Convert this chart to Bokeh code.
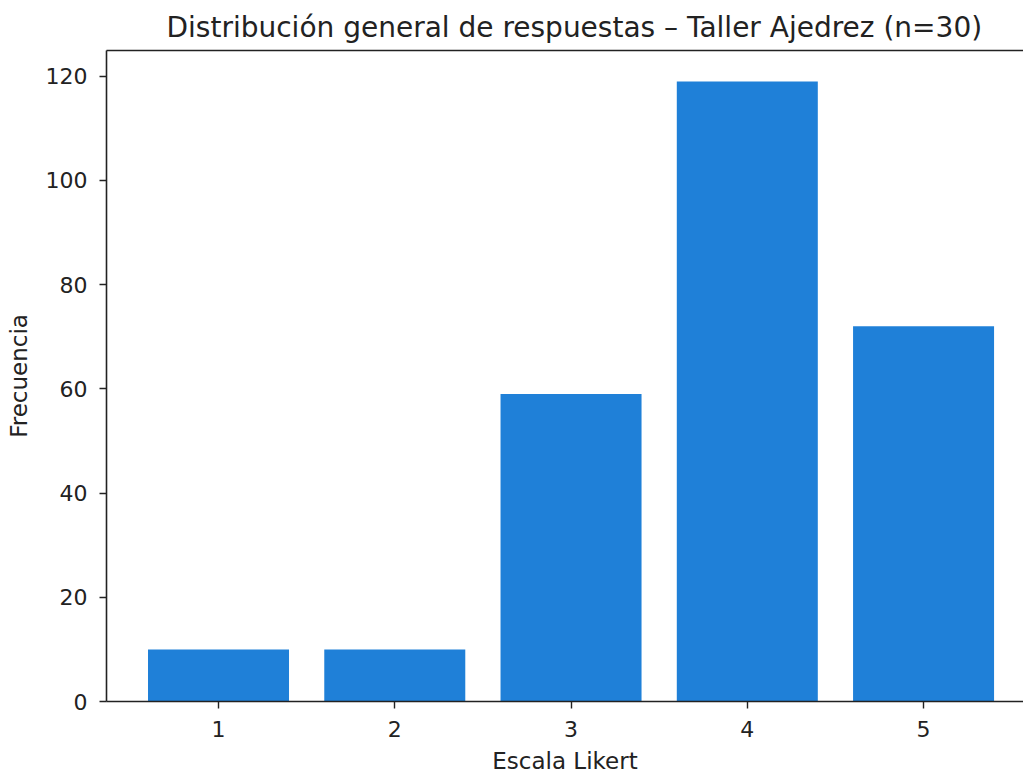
from bokeh.plotting import figure
from bokeh.models import Range1d, FixedTicker, LinearAxis, ColumnDataSource
from bokeh.embed import file_html
from bokeh.resources import INLINE

categories = ["1", "2", "3", "4", "5"]
frecuencia = [10, 10, 59, 119, 72]
y_ticks = [0, 20, 40, 60, 80, 100, 120]

src = ColumnDataSource(dict(x=[int(c) for c in categories], top=frecuencia))

FONT = "DejaVu Sans"
p = figure(width=1023, height=770, output_backend="svg", toolbar_location=None,
           x_range=Range1d(0.3645, 5.567), y_range=Range1d(0, 124.95),
           min_border_left=106, min_border_right=0, min_border_top=50, min_border_bottom=69)
p.frame_width = 917
p.frame_height = 651

p.title.text = "Distribución general de respuestas – Taller Ajedrez (n=30)"
p.title.text_font = FONT
p.title.text_font_size = "28px"
p.title.text_font_style = "normal"
p.title.text_color = "#222222"
p.title.align = "left"
p.title.offset = 60
p.title.standoff = 13

p.vbar(x="x", top="top", width=0.8, source=src, fill_color="#1f80d8", line_color=None)

p.xgrid.visible = False
p.ygrid.visible = False
p.outline_line_color = None
p.background_fill_color = "white"

for ax in (p.xaxis[0], p.yaxis[0]):
    ax.axis_line_color = "#222222"
    ax.axis_line_width = 1.6
    ax.major_tick_line_color = "#222222"
    ax.major_tick_line_width = 1.4
    ax.major_tick_out = 7
    ax.major_tick_in = 0
    ax.minor_tick_line_color = None
    ax.major_label_text_font = FONT
    ax.major_label_text_font_size = "22px"
    ax.major_label_text_color = "#222222"
    ax.axis_label_text_font = FONT
    ax.axis_label_text_font_size = "23px"
    ax.axis_label_text_font_style = "normal"
    ax.axis_label_text_color = "#222222"

p.xaxis.major_label_standoff = 12
p.yaxis.major_label_standoff = 12
p.xaxis.ticker = FixedTicker(ticks=[int(c) for c in categories])
p.xaxis.major_label_overrides = {int(c): c for c in categories}
p.yaxis.ticker = FixedTicker(ticks=y_ticks)
p.xaxis.axis_label = "Escala Likert"
p.yaxis.axis_label = "Frecuencia"
p.xaxis.axis_label_standoff = 8
p.yaxis.axis_label_standoff = 11

top_ax = LinearAxis(major_tick_line_color=None, minor_tick_line_color=None,
                    major_label_text_font_size="0px", axis_line_color="#222222",
                    axis_line_width=1.6)
top_ax.ticker = FixedTicker(ticks=[])
p.add_layout(top_ax, "above")

open("out.html", "w").write(file_html(p, INLINE))
